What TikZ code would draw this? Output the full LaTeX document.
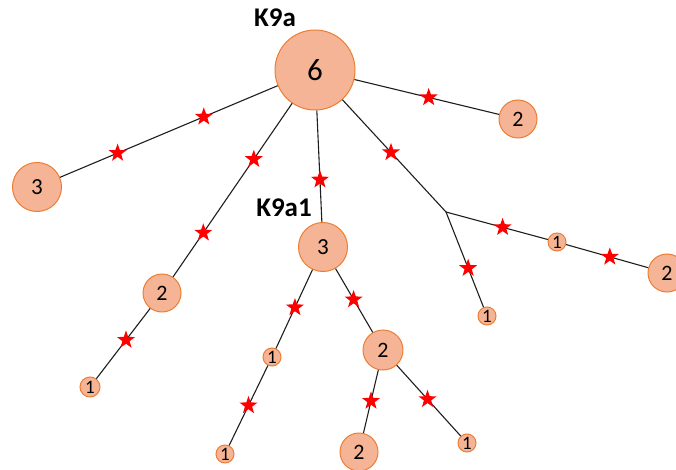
\documentclass[tikz,border=0pt]{standalone}
\usepackage{fontspec}
\setmainfont{Carlito}
\usetikzlibrary{shapes.geometric,calc}
\definecolor{nodefill}{RGB}{245,180,150}
\definecolor{nodeline}{RGB}{237,125,49}
\definecolor{edgecol}{RGB}{30,30,30}
\begin{document}
\begin{tikzpicture}[x=1pt,y=-1pt,
  vtx/.style={circle,fill=nodefill,draw=nodeline,line width=1pt,inner sep=0pt,text=black},
  vxl/.style={vtx,minimum size=80pt,font=\fontsize{31}{31}\selectfont},
  vlg/.style={vtx,minimum size=49pt,font=\fontsize{23}{23}\selectfont},
  vmd/.style={vtx,minimum size=38pt,font=\fontsize{22}{22}\selectfont},
  vsm/.style={vtx,minimum size=18pt,font=\fontsize{19}{19}\selectfont},
  edge/.style={draw=edgecol,line width=1.1pt},
  mark5/.style={star,star points=5,star point ratio=2.5,fill=red,draw=none,inner sep=0pt,minimum size=19pt},
  lbl/.style={font=\fontsize{27}{27}\selectfont\bfseries}]
\useasboundingbox (0,0) rectangle (676,470);
% vertices
\node[vxl] (R) at (315,70) {6};
\node[vlg] (L3) at (37,187) {3};
\node[vmd] (T2) at (518,119) {2};
\node[vlg] (A) at (323,247) {3};
\node[vmd] (L2) at (162,293) {2};
\node[vsm,minimum size=20pt] (L1) at (90,387) {1};
\coordinate (J) at (446,212);
\node[vsm] (J1) at (487,316) {1};
\node[vsm] (M1) at (557,242) {1};
\node[vmd] (F2) at (667,273) {2};
\node[vsm] (A1) at (272,357) {1};
\node[vmd,minimum size=40pt] (A2) at (383,350) {2};
\node[vsm] (B1) at (225,454) {1};
\node[vmd] (B2) at (359,452) {2};
\node[vsm] (B3) at (467,443) {1};
% labels
\node[lbl] (K9a) at (275,18) {K9a};
\node[lbl] (K9a1) at (284,208) {K9a1};
% edges
\path[edge] (R) -- (L3);
\path[edge] (R) -- (L2);
\path[edge] (L2) -- (L1);
\path[edge] (R) -- (A);
\path[edge] (R) -- (J);
\path[edge] (R) -- (T2);
\path[edge] (J) -- (J1);
\path[edge] (J) -- (M1);
\path[edge] (M1) -- (F2);
\path[edge] (A) -- (A1);
\path[edge] (A) -- (A2);
\path[edge] (A1) -- (B1);
\path[edge] (A2) -- (B2);
\path[edge] (A2) -- (B3);
% stars
\node[mark5] (s1) at ($(R)!0.40!(L3)$) {};
\node[mark5] (s2) at ($(R)!0.71!(L3)$) {};
\node[mark5] (s3) at ($(R)!0.40!(L2)$) {};
\node[mark5] (s4) at ($(R)!0.73!(L2)$) {};
\node[mark5] (s5) at ($(L2)!0.50!(L1)$) {};
\node[mark5] (s6) at ($(R)!0.62!(A)$) {};
\node[mark5] (s7) at ($(R)!0.58!(J)$) {};
\node[mark5] (s8) at ($(R)!0.56!(T2)$) {};
\node[mark5] (s9) at ($(J)!0.54!(J1)$) {};
\node[mark5] (s10) at ($(J)!0.51!(M1)$) {};
\node[mark5] (s11) at ($(M1)!0.48!(F2)$) {};
\node[mark5] (s12) at ($(A)!0.55!(A1)$) {};
\node[mark5] (s13) at ($(A)!0.51!(A2)$) {};
\node[mark5] (s14) at ($(A1)!0.50!(B1)$) {};
\node[mark5] (s15) at ($(A2)!0.50!(B2)$) {};
\node[mark5] (s16) at ($(A2)!0.53!(B3)$) {};
\end{tikzpicture}
\end{document}
